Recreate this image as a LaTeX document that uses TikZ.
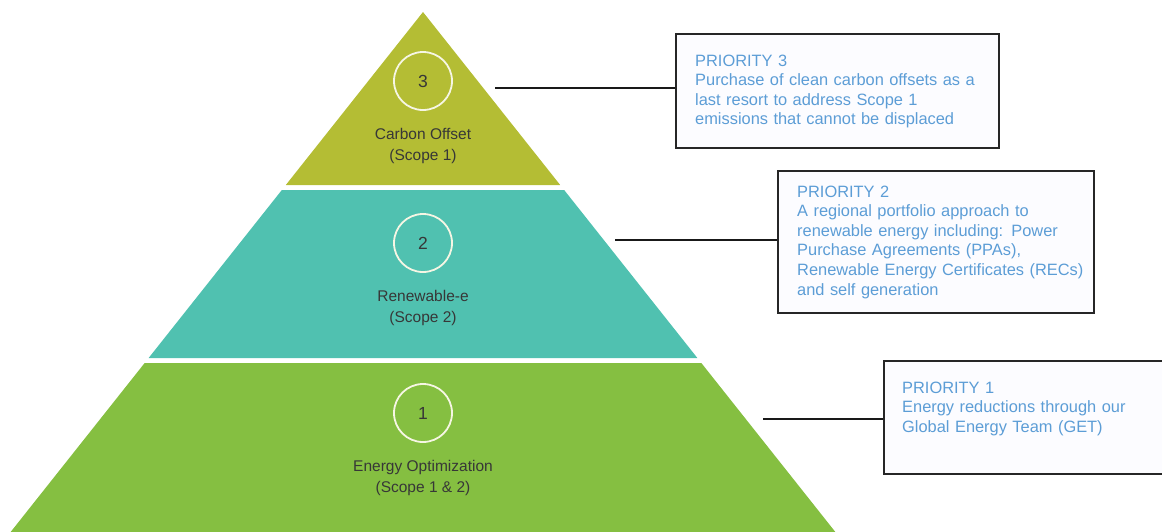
\documentclass[tikz,border=0pt]{standalone}
\usepackage{fontspec}
\setmainfont{Liberation Sans}
\usetikzlibrary{positioning}
\definecolor{offsetband}{RGB}{180,189,52}
\definecolor{renewband}{RGB}{80,193,176}
\definecolor{optimband}{RGB}{133,191,65}
\definecolor{prioblue}{RGB}{92,157,214}
\definecolor{labelgray}{RGB}{55,55,55}
\definecolor{ringline}{RGB}{246,246,228}

\begin{document}
\begin{tikzpicture}
  [x=1pt, y=-1pt,
    ring/.style={
      circle,
      draw=ringline,
      line width=1.8pt,
      minimum size=58pt,
      inner sep=0pt,
      text=labelgray,
      font=\fontsize{17.5}{19}\selectfont
    },
    tier label/.style={
      align=center,
      text=labelgray,
      font=\fontsize{15.5}{21}\selectfont
    },
    prio box/.style={
      draw=black!85,
      line width=2pt,
      fill=blue!1,
      anchor=north west,
      inner sep=0pt
    },
    prio text/.style={
      anchor=base west,
      text width=300pt,
      inner sep=0pt,
      align=left,
      text=prioblue,
      font=\fontsize{16.4}{19.6}\selectfont
    },
    link/.style={line width=2.2pt, black!90},
  ]
\useasboundingbox (0,0) rectangle (1162,531);
\clip (0,0) rectangle (1162,531);

% Draw pyramid bands
\foreach \t/\b/\c in {12/185/offsetband, 190/358/renewband, 363/545/optimband}
  \fill [\c] ({423-0.793*(\t-12)},\t) -- ({423+0.793*(\t-12)},\t)
    -- ({423+0.793*(\b-12)},\b) -- ({423-0.793*(\b-12)},\b) -- cycle;

% Draw rings and tier labels
\foreach \n/\y/\l in {3/81/{Carbon Offset\\(Scope 1)},
                      2/243/{Renewable-e\\(Scope 2)},
                      1/413/{Energy Optimization\\(Scope 1 \& 2)}}
{
  \node [ring] (ring-\n) at (423,\y) {\n};
  \node [tier label] (tier-\n) at (423,\y+65) {\l};
}

% Draw priority boxes
\node [prio box, minimum width=323pt, minimum height=114pt] (box-3) at (675,33) {};
\node [prio box, minimum width=316pt, minimum height=142pt] (box-2) at (777,170) {};
\node [prio box, minimum width=300pt, minimum height=113pt] (box-1) at (883,360) {};

% Box texts
\node [prio text] (prio-3) at (695,66)
  {PRIORITY 3\\Purchase of clean carbon offsets as a\\last resort to address Scope 1\\emissions that cannot be displaced};
\node [prio text] (prio-2) at (797,197)
  {PRIORITY 2\\A regional portfolio approach to\\renewable energy including: Power\\Purchase Agreements (PPAs),\\Renewable Energy Certificates (RECs)\\and self generation};
\node [prio text] (prio-1) at (902,393)
  {PRIORITY 1\\Energy reductions through our\\Global Energy Team (GET)};

% Connect bands with boxes
\coordinate (edge-3) at (495,88);
\coordinate (edge-2) at (615,240);
\coordinate (edge-1) at (763,419);
\foreach \n in {1,2,3}
  \draw [link] (edge-\n) -- (edge-\n -| box-\n.west);
\end{tikzpicture}
\end{document}
